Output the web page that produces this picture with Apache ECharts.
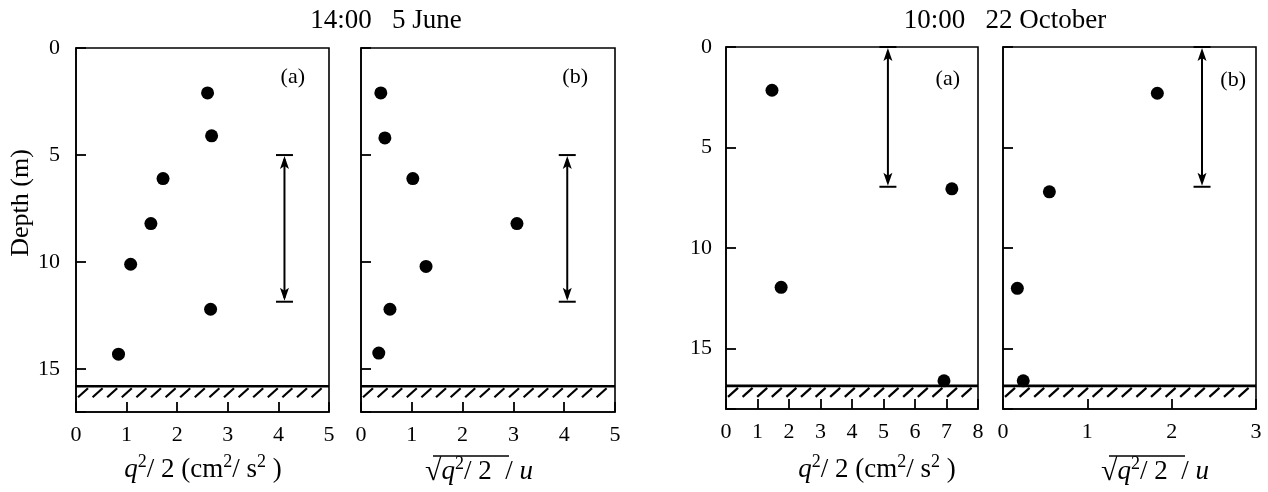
<!DOCTYPE html>
<html><head><meta charset="utf-8">
<script src="https://cdn.jsdelivr.net/npm/echarts@6/dist/echarts.min.js"></script>
<style>html,body{margin:0;padding:0;background:#fff}#c{width:1268px;height:492px}</style>
</head><body><div id="c"></div>
<script>
// ---------- data ----------
const juneDepth  = [2.1, 4.1, 6.1, 8.2, 10.1, 12.2, 14.3];
const juneEnergy = [2.6, 2.68, 1.72, 1.48, 1.08, 2.66, 0.84];   // q^2/2 (cm^2/s^2)
const juneDepthB = [2.1, 4.2, 6.1, 8.2, 10.2, 12.2, 14.25];
const juneRatio  = [0.39, 0.47, 1.02, 3.07, 1.28, 0.57, 0.35];  // sqrt(q^2/2)/u
const octDepthA  = [2.15, 7.05, 11.95, 16.6];
const octEnergy  = [1.46, 7.17, 1.75, 6.92];
const octDepthB  = [2.3, 7.2, 12.0, 16.6];
const octRatio   = [1.83, 0.55, 0.17, 0.24];
// vertical range arrows: [x, top depth, bottom depth]
const juneArrowA = [4.12, 5, 11.85];
const juneArrowB = [4.06, 5, 11.85];
const octArrowA  = [5.14, 0, 6.95];
const octArrowB  = [2.36, 0, 6.95];
// sea-bed depth (m)
const juneSeabed = 15.8;
const octSeabed  = 16.85;
// axis ranges
const juneDepthMax = 17, octDepthMax = 18;
const xMaxes = [5, 5, 8, 3];
const titles = ['14:00   5 June', '10:00   22 October'];
const panelTags = ['(a)', '(b)', '(a)', '(b)'];

// ---------- helpers ----------
const FONT = '"Liberation Serif", "Times New Roman", serif';
const zip = (xs, ys) => xs.map((x, i) => [x, ys[i]]);

const grids = [
  {left: 76,   top: 48, width: 253, height: 364},
  {left: 361,  top: 48, width: 254, height: 364},
  {left: 726,  top: 47, width: 252, height: 362},
  {left: 1003, top: 47, width: 253, height: 362}
].map(g => Object.assign(g, {show: true, borderColor: '#000', borderWidth: 1.6, containLabel: false}));

const xAxes = xMaxes.map((mx, i) => ({
  type: 'value', gridIndex: i, min: 0, max: mx, interval: 1,
  axisLine: {show: true, onZero: false, lineStyle: {color: '#000', width: 1.6}},
  axisTick: {show: true, inside: true, length: 10, lineStyle: {color: '#000', width: 1.8}},
  axisLabel: {color: '#000', fontFamily: FONT, fontSize: 22, margin: 12, showMinLabel: true, showMaxLabel: true},
  splitLine: {show: false}
}));

const yAxes = [0, 1, 2, 3].map(i => ({
  type: 'value', gridIndex: i, inverse: true, min: 0,
  max: i < 2 ? juneDepthMax : octDepthMax, interval: 5,
  axisLine: {show: true, onZero: false, lineStyle: {color: '#000', width: 1.6}},
  axisTick: {show: true, inside: true, length: 10, lineStyle: {color: '#000', width: 1.8}},
  axisLabel: {show: i === 0 || i === 2, color: '#000', fontFamily: FONT, fontSize: 22,
              margin: i === 0 ? 16 : 14, showMaxLabel: true,
              formatter: v => (v % 5 === 0 ? String(v) : '')},
  splitLine: {show: false}
}));

function renderArrow(params, api) {
  const x = api.value(0), d1 = api.value(1), d2 = api.value(2);
  const p1 = api.coord([x, d1]), p2 = api.coord([x, d2]);
  const cap = 8.5, ah = 13, aw = 4.5, st = {stroke: '#000', lineWidth: 2};
  return {type: 'group', children: [
    {type: 'line', shape: {x1: p1[0], y1: p1[1] + 4, x2: p2[0], y2: p2[1] - 4}, style: st},
    {type: 'line', shape: {x1: p1[0] - cap, y1: p1[1], x2: p1[0] + cap, y2: p1[1]}, style: st},
    {type: 'line', shape: {x1: p2[0] - cap, y1: p2[1], x2: p2[0] + cap, y2: p2[1]}, style: st},
    {type: 'polygon', shape: {points: [[p1[0], p1[1] + 1], [p1[0] - aw, p1[1] + 1 + ah], [p1[0], p1[1] + ah - 2], [p1[0] + aw, p1[1] + 1 + ah]]}, style: {fill: '#000'}},
    {type: 'polygon', shape: {points: [[p2[0], p2[1] - 1], [p2[0] - aw, p2[1] - 1 - ah], [p2[0], p2[1] - ah + 2], [p2[0] + aw, p2[1] - 1 - ah]]}, style: {fill: '#000'}}
  ]};
}

function renderSeabed(params, api) {
  const cs = params.coordSys;
  const y = api.coord([0, api.value(1)])[1];
  const children = [{type: 'line', shape: {x1: cs.x, y1: y, x2: cs.x + cs.width, y2: y}, style: {stroke: '#000', lineWidth: 2.6}}];
  const step = 14.6, h = 9, w = 10;
  for (let sx = cs.x + 2; sx + w <= cs.x + cs.width - 2; sx += step) {
    children.push({type: 'line', shape: {x1: sx, y1: y + 2 + h, x2: sx + w, y2: y + 2}, style: {stroke: '#000', lineWidth: 2.2}});
  }
  return {type: 'group', children};
}

const scatterData = [zip(juneEnergy, juneDepth), zip(juneRatio, juneDepthB), zip(octEnergy, octDepthA), zip(octRatio, octDepthB)];
const arrows = [juneArrowA, juneArrowB, octArrowA, octArrowB];
const seabeds = [juneSeabed, juneSeabed, octSeabed, octSeabed];

const series = [];
for (let i = 0; i < 4; i++) {
  series.push({type: 'custom', xAxisIndex: i, yAxisIndex: i, renderItem: renderSeabed, data: [[0, seabeds[i]]], silent: true, z: 3});
  series.push({type: 'custom', xAxisIndex: i, yAxisIndex: i, renderItem: renderArrow, data: [arrows[i]], encode: {x: 0, y: [1, 2]}, silent: true, z: 4});
  series.push({type: 'scatter', xAxisIndex: i, yAxisIndex: i, data: scatterData[i], symbol: 'circle', symbolSize: 13,
               itemStyle: {color: '#000', opacity: 1}, silent: true, z: 5});
}

// ---------- text ----------
const base = {fill: '#000', fontFamily: FONT};
const nameRich = {
  n: {fontSize: 27, fontFamily: FONT, lineHeight: 34, color: '#000'},
  i: {fontSize: 27, fontFamily: FONT, fontStyle: 'italic', lineHeight: 34, color: '#000'},
  s: {fontSize: 18, fontFamily: FONT, lineHeight: 18, verticalAlign: 'top', color: '#000'},
  r: {fontSize: 30, fontFamily: FONT, lineHeight: 34, color: '#000'}
};
const energyName = '{i|q}{s|2}{n|/ 2 (cm}{s|2}{n|/ s}{s|2}{n| )}';
const ratioName = '{r|√}{i|q}{s|2}{n|/ 2  / }{i|u}';

const graphic = [
  {type: 'text', x: 386, y: 21, style: Object.assign({text: titles[0], fontSize: 27, align: 'center', verticalAlign: 'middle'}, base)},
  {type: 'text', x: 1005, y: 21, style: Object.assign({text: titles[1], fontSize: 27, align: 'center', verticalAlign: 'middle'}, base)},
  {type: 'text', x: 21, y: 203, rotation: Math.PI / 2, style: Object.assign({text: 'Depth (m)', fontSize: 26, align: 'center', verticalAlign: 'middle'}, base)},
  {type: 'text', x: 305, y: 77, style: Object.assign({text: panelTags[0], fontSize: 22, align: 'right', verticalAlign: 'middle'}, base)},
  {type: 'text', x: 588, y: 77, style: Object.assign({text: panelTags[1], fontSize: 22, align: 'right', verticalAlign: 'middle'}, base)},
  {type: 'text', x: 960, y: 79, style: Object.assign({text: panelTags[2], fontSize: 22, align: 'right', verticalAlign: 'middle'}, base)},
  {type: 'text', x: 1246, y: 80, style: Object.assign({text: panelTags[3], fontSize: 22, align: 'right', verticalAlign: 'middle'}, base)},
  {type: 'text', x: 203, y: 470, style: {text: energyName, rich: nameRich, align: 'center', verticalAlign: 'middle'}},
  {type: 'text', x: 877, y: 470, style: {text: energyName, rich: nameRich, align: 'center', verticalAlign: 'middle'}},
  {type: 'group', x: 479, y: 472, children: [
    {type: 'text', x: 0, y: 0, style: {text: ratioName, rich: nameRich, align: 'center', verticalAlign: 'middle'}},
    {type: 'line', shape: {x1: -46, y1: -16, x2: 30, y2: -16}, style: {stroke: '#000', lineWidth: 1.5}}
  ]},
  {type: 'group', x: 1155, y: 472, children: [
    {type: 'text', x: 0, y: 0, style: {text: ratioName, rich: nameRich, align: 'center', verticalAlign: 'middle'}},
    {type: 'line', shape: {x1: -46, y1: -16, x2: 30, y2: -16}, style: {stroke: '#000', lineWidth: 1.5}}
  ]}
];

const chart = echarts.init(document.getElementById('c'), null, {renderer: 'canvas'});
chart.setOption({
  animation: false,
  backgroundColor: '#fff',
  textStyle: {fontFamily: FONT},
  grid: grids, xAxis: xAxes, yAxis: yAxes, series, graphic
});
</script>
</body></html>
